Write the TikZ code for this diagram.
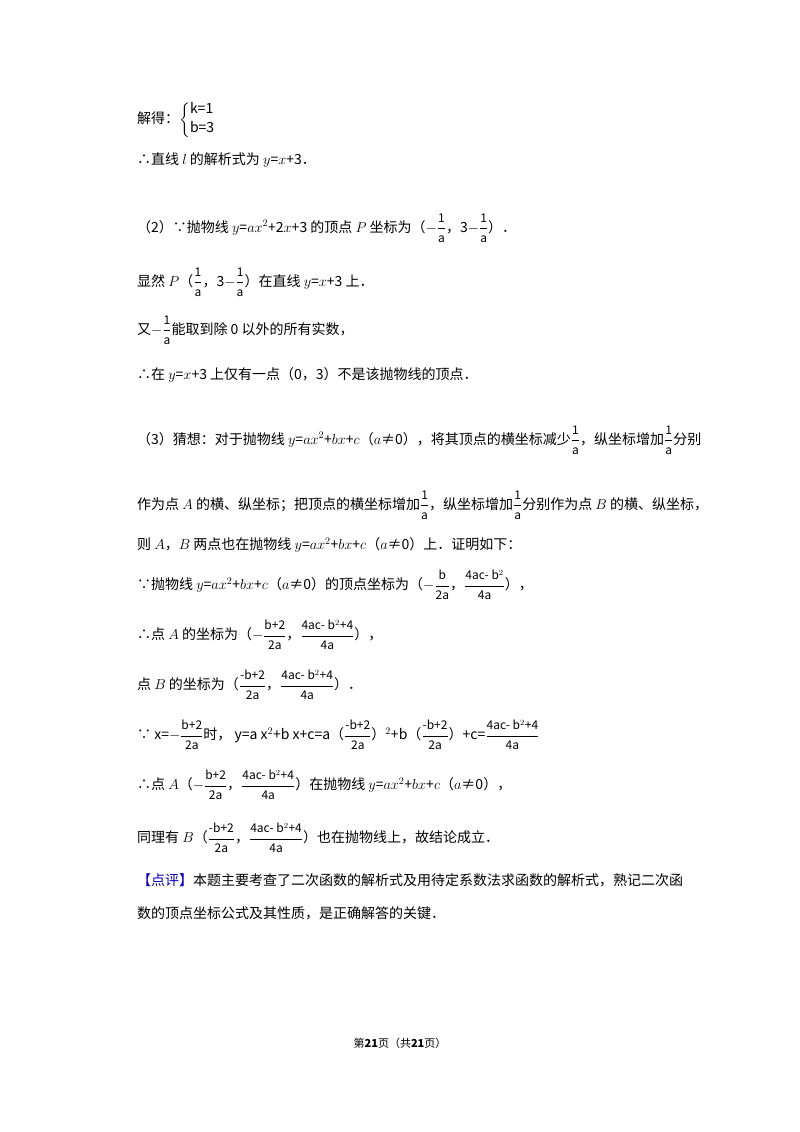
\documentclass[tikz,border=0pt]{standalone}
\usepackage{amsmath}
\usepackage{fontspec}
\setmainfont{Noto Sans CJK SC}
\newcommand{\fr}[2]{$\dfrac{\mbox{\fontsize{12}{13}\selectfont #1}}{\mbox{\fontsize{12}{13}\selectfont #2}}$}
\newcommand{\mv}[1]{$#1$}
\begin{document}
\begin{tikzpicture}[x=1pt,y=-1pt,
  ln/.style={anchor=west,inner sep=0pt,font=\fontsize{14}{17}\selectfont},
  ft/.style={anchor=center,inner sep=0pt,font=\fontsize{11}{13}\selectfont}]
\useasboundingbox[fill=white] (0,0) rectangle (800,1132);
\node[ln] (l1) at (137,120) {解得：$\left\{\begin{array}{@{}l@{}}\mbox{k=1}\\[2pt]\mbox{b=3}\end{array}\right.$};
\node[ln] (l2) at (137,160) {∴直线 \mv{l} 的解析式为 \mv{y}=\mv{x}+3．};
\node[ln] (l3) at (137,228) {（2）∵抛物线 \mv{y}=\mv{ax^2}+2\mv{x}+3 的顶点 \mv{P} 坐标为（\mv{-}\fr{1}{a}，3\mv{-}\fr{1}{a}）．};
\node[ln] (l4) at (137,282) {显然 \mv{P}（\fr{1}{a}，3\mv{-}\fr{1}{a}）在直线 \mv{y}=\mv{x}+3 上．};
\node[ln] (l5) at (137,330) {又\mv{-}\fr{1}{a}能取到除 0 以外的所有实数，};
\node[ln] (l6) at (137,375) {∴在 \mv{y}=\mv{x}+3 上仅有一点（0，3）不是该抛物线的顶点．};
\node[ln] (l7) at (137,440) {（3）猜想：对于抛物线 \mv{y}=\mv{ax^2}+\mv{bx}+\mv{c}（\mv{a}≠0），将其顶点的横坐标减少\fr{1}{a}，纵坐标增加\fr{1}{a}分别};
\node[ln] (l8) at (137,505) {作为点 \mv{A} 的横、纵坐标；把顶点的横坐标增加\fr{1}{a}，纵坐标增加\fr{1}{a}分别作为点 \mv{B} 的横、纵坐标，};
\node[ln] (l9) at (137,545) {则 \mv{A}，\mv{B} 两点也在抛物线 \mv{y}=\mv{ax^2}+\mv{bx}+\mv{c}（\mv{a}≠0）上．证明如下：};
\node[ln] (l10) at (137,585) {∵抛物线 \mv{y}=\mv{ax^2}+\mv{bx}+\mv{c}（\mv{a}≠0）的顶点坐标为（\mv{-}\fr{b}{2a}，\fr{4ac- b$^2$}{4a}），};
\node[ln] (l11) at (137,635) {∴点 \mv{A} 的坐标为（\mv{-}\fr{b+2}{2a}，\fr{4ac- b$^2$+4}{4a}），};
\node[ln] (l12) at (137,685) {点 \mv{B} 的坐标为（\fr{-b+2}{2a}，\fr{4ac- b$^2$+4}{4a}）．};
\node[ln] (l13) at (137,735) {∵ x=\mv{-}\fr{b+2}{2a}时， y=a x$^2$+b x+c=a（\fr{-b+2}{2a}）$^2$+b（\fr{-b+2}{2a}）+c=\fr{4ac- b$^2$+4}{4a}};
\node[ln] (l14) at (137,785) {∴点 \mv{A}（\mv{-}\fr{b+2}{2a}，\fr{4ac- b$^2$+4}{4a}）在抛物线 \mv{y}=\mv{ax^2}+\mv{bx}+\mv{c}（\mv{a}≠0），};
\node[ln] (l15) at (137,838) {同理有 \mv{B}（\fr{-b+2}{2a}，\fr{4ac- b$^2$+4}{4a}）也在抛物线上，故结论成立．};
\node[ln] (l16) at (137,880) {\textcolor{blue!80!black}{【点评】}本题主要考查了二次函数的解析式及用待定系数法求函数的解析式，熟记二次函};
\node[ln] (l17) at (137,913) {数的顶点坐标公式及其性质，是正确解答的关键．};
\node[ft] (pg) at (400,1043) {第\textbf{21}页（共\textbf{21}页）};
\end{tikzpicture}
\end{document}
